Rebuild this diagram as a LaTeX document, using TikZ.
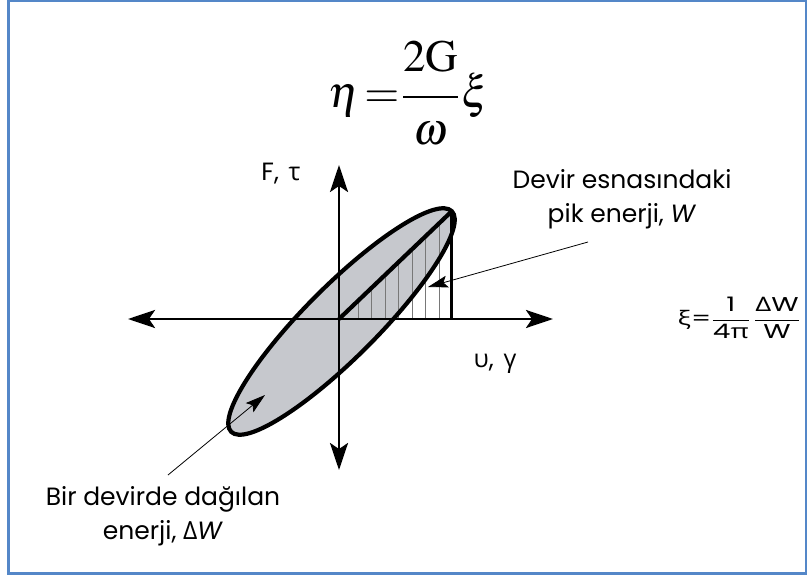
\documentclass[tikz,border=0pt]{standalone}
\usepackage{mathptmx}
\usepackage{graphicx}
\usepackage{fontspec}
\setmainfont{Poppins}
\newfontfamily\grk{Open Sans}
\usetikzlibrary{positioning, calc, arrows.meta}
\definecolor{FBlue}{RGB}{84,135,200}
\definecolor{FGray}{RGB}{198,200,205}
\definecolor{FHatch}{RGB}{120,120,120}

\begin{document}
\begin{tikzpicture}[x=1pt, y=-1pt,
    every node/.style={inner sep=0pt},
    lbl/.style={font=\fontsize{25}{34}\selectfont, align=center},
    axis/.style={{Stealth[length=27pt, width=18pt, inset=6pt]}-{Stealth[length=27pt, width=18pt, inset=6pt]},
                 line width=2.7pt},
    loop/.style={line width=4.2pt},
    hatch/.style={FHatch, line width=1.1pt},
    lead/.style={-{Stealth[length=20pt, width=12pt, inset=4pt]}, line width=0.8pt},
  ]
  \useasboundingbox (0,0) rectangle (808,575);
  \draw[FBlue, line width=2.5pt] (8.7,1) rectangle (806,573.3);

  % top formula
  \node[anchor=base] (eta) at (409,108) {\fontsize{45}{54}\selectfont$\displaystyle
    \eta\mkern2mu{=}\mkern1mu{\raisebox{6pt}{$2\mathrm{G}$}\above 1.8pt\raisebox{-6pt}{$\omega$}}\mkern1mu\xi$};

  % key points
  \coordinate (O) at (339,319);
  \coordinate (C) at (341.5,321.5);
  \coordinate (P) at (451.8,211.2);
  \coordinate (Q) at (P |- O);

  % hysteresis loop
  \fill[FGray, rotate around={45:(C)}] (C) ellipse [x radius=156pt, y radius=36pt];
  \foreach \t in {0.17,0.29,0.41,0.53,0.65,0.77,0.89}
    \draw[hatch] ($(O)!\t!(P)$) -- ($(O)!\t!(Q)$);
  \draw[axis] (128,319) -- (553,319);
  \draw[axis] (339,470) -- (339,165);
  \draw[loop, rotate around={45:(C)}] (C) ellipse [x radius=156pt, y radius=36pt];
  \draw[loop] (O) -- (P);
  \draw[line width=3.2pt] (P) -- (Q);

  % axis labels
  \node[lbl] (ft) at (281,174) {F,\hspace{3pt} {\grk τ}};
  \node[lbl] (ug) at (495,364) {{\grk υ},\hspace{3pt} {\grk γ}};

  % peak energy
  \node[lbl] (peak) at (622,199) {Devir esnasındaki\\pik enerji, \textit{W}};
  \coordinate (pk0) at (588,242);
  \coordinate (pk1) at (428,287);
  \draw[lead] (pk0) -- (pk1);

  % dissipated energy
  \node[lbl] (diss) at (163,516) {Bir devirde dağılan\\enerji, {\grk Δ}\textit{W}};
  \coordinate (ds0) at (168,475);
  \coordinate (ds1) at (265,395);
  \draw[lead] (ds0) -- (ds1);

  % damping ratio
  \node (xi) at (739,318) {\scalebox{1.4}[1]{\fontsize{20}{24}\selectfont{\grk ξ}=$\displaystyle
    \frac{\hbox{1}}{\hbox{4{\grk π}}}\,\frac{\hbox{{\grk Δ}W}}{\hbox{W}}$}};
\end{tikzpicture}
\end{document}
